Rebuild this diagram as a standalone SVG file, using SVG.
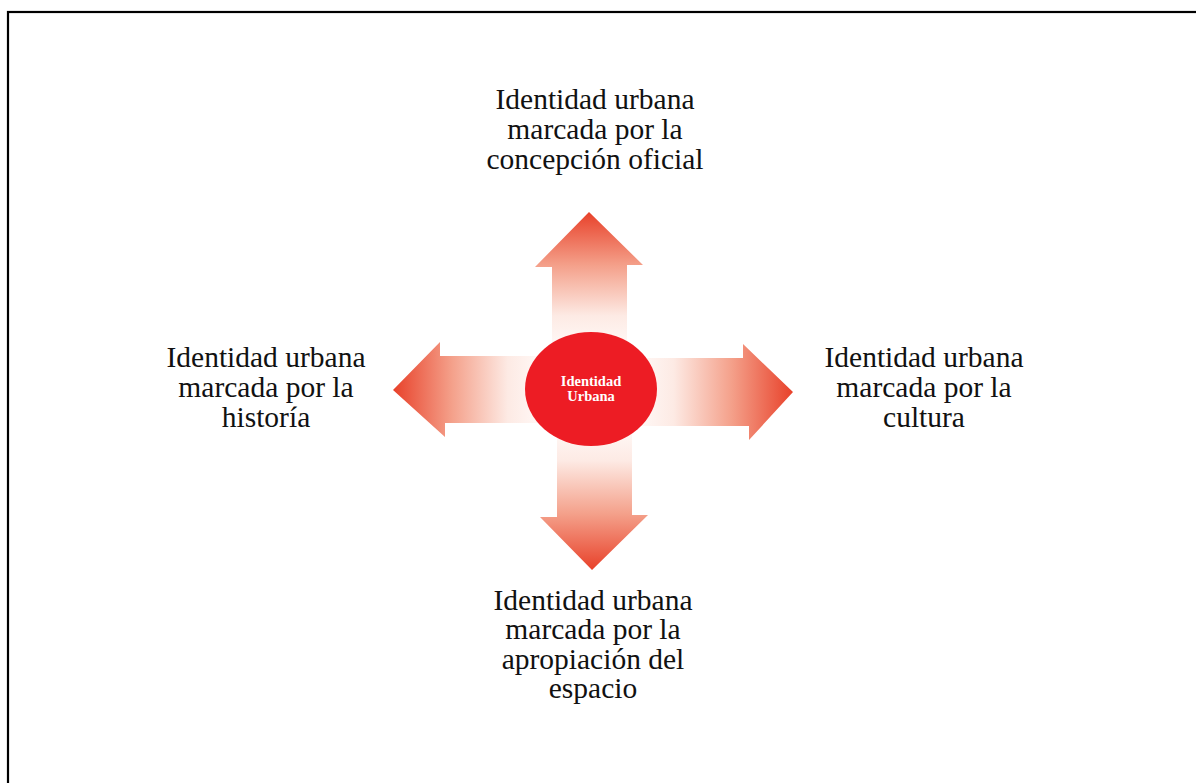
<svg xmlns="http://www.w3.org/2000/svg" width="1196" height="783" viewBox="0 0 1196 783">
<style>
.lbl{font-family:"Liberation Serif","Times New Roman",serif;font-size:29.5px;fill:#111;text-anchor:middle}
.ctr{font-family:"Liberation Serif","Times New Roman",serif;font-size:14.5px;font-weight:bold;fill:#fff;text-anchor:middle}
</style>
<defs>
<linearGradient id="gUp" gradientUnits="userSpaceOnUse" x1="0" y1="212" x2="0" y2="345">
<stop offset="0" stop-color="#E8412A"/><stop offset="0.4" stop-color="#F4A08A"/><stop offset="0.78" stop-color="#FDEAE4"/><stop offset="1" stop-color="#FFF8F6"/>
</linearGradient>
<linearGradient id="gDown" gradientUnits="userSpaceOnUse" x1="0" y1="570" x2="0" y2="430">
<stop offset="0" stop-color="#E8412A"/><stop offset="0.4" stop-color="#F4A08A"/><stop offset="0.78" stop-color="#FDEAE4"/><stop offset="1" stop-color="#FFF8F6"/>
</linearGradient>
<linearGradient id="gLeft" gradientUnits="userSpaceOnUse" x1="393" y1="0" x2="540" y2="0">
<stop offset="0" stop-color="#E8412A"/><stop offset="0.4" stop-color="#F4A08A"/><stop offset="0.78" stop-color="#FDEAE4"/><stop offset="1" stop-color="#FFF8F6"/>
</linearGradient>
<linearGradient id="gRight" gradientUnits="userSpaceOnUse" x1="793" y1="0" x2="640" y2="0">
<stop offset="0" stop-color="#E8412A"/><stop offset="0.4" stop-color="#F4A08A"/><stop offset="0.78" stop-color="#FDEAE4"/><stop offset="1" stop-color="#FFF8F6"/>
</linearGradient>
</defs>
<rect x="0" y="0" width="1196" height="783" fill="#fff"/>
<rect x="8" y="12" width="1200" height="790" fill="none" stroke="#000" stroke-width="2.2"/>
<g id="connectors">
<polygon id="arrow-up" points="589,212 643,265 627,265 627,345 552,345 552,267 535,267" fill="url(#gUp)"/>
<polygon id="arrow-left" points="393,390 440,342 440,356 540,356 540,423 445,423 445,437" fill="url(#gLeft)"/>
<polygon id="arrow-right" points="793,392 749,440 749,426 640,426 640,358 743,358 743,344" fill="url(#gRight)"/>
<polygon id="arrow-down" points="592,570 540,517 557,517 557,430 632,430 632,515 648,515" fill="url(#gDown)"/>
</g>
<g id="node-center">
<ellipse cx="591" cy="389" rx="66" ry="57" fill="#ED1C24"/>
<text class="ctr" x="591" y="386">Identidad</text>
<text class="ctr" x="591" y="401">Urbana</text>
</g>
<g id="node-top">
<text class="lbl" x="595" y="109">Identidad urbana</text>
<text class="lbl" x="595" y="139">marcada por la</text>
<text class="lbl" x="595" y="169">concepción oficial</text>
</g>
<g id="node-left">
<text class="lbl" x="266" y="367">Identidad urbana</text>
<text class="lbl" x="266" y="397">marcada por la</text>
<text class="lbl" x="266" y="427">historía</text>
</g>
<g id="node-right">
<text class="lbl" x="924" y="367">Identidad urbana</text>
<text class="lbl" x="924" y="397">marcada por la</text>
<text class="lbl" x="924" y="427">cultura</text>
</g>
<g id="node-bottom">
<text class="lbl" x="593" y="610">Identidad urbana</text>
<text class="lbl" x="593" y="639">marcada por la</text>
<text class="lbl" x="593" y="669">apropiación del</text>
<text class="lbl" x="593" y="698">espacio</text>
</g>
</svg>
